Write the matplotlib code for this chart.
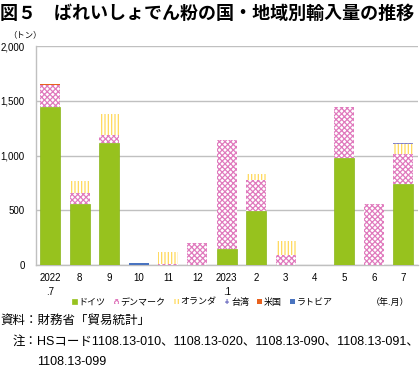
import matplotlib
matplotlib.use("Agg")
import matplotlib.pyplot as plt
from matplotlib.patches import Patch
import numpy as np

plt.rcParams['font.family'] = ['Liberation Sans', 'Noto Sans CJK JP', 'DejaVu Sans']
plt.rcParams['hatch.linewidth'] = 0.9

categories = ["2022\n.7", "8", "9", "10", "11", "12", "2023\n.1", "2", "3", "4", "5", "6", "7"]
germany     = [1440, 560, 1110, 0, 0, 0, 150, 490, 0, 0, 975, 0, 740]
denmark     = [205, 100, 75, 0, 10, 200, 995, 290, 90, 0, 465, 555, 270]
netherlands = [0, 105, 190, 0, 105, 0, 0, 55, 125, 0, 0, 0, 95]
taiwan      = [0, 0, 0, 0, 0, 0, 0, 0, 0, 0, 0, 0, 8]
usa         = [5, 0, 0, 0, 0, 0, 0, 0, 0, 0, 5, 0, 0]
latvia      = [0, 0, 0, 20, 0, 0, 0, 0, 0, 0, 0, 0, 0]
yticks = [0, 500, 1000, 1500, 2000]
ytick_labels = ["0", "500", "1,000", "1,500", "2,000"]

series = [
    ("ドイツ", germany, dict(color="#97C21E", edgecolor="#8AB51A", linewidth=0.5)),
    ("デンマーク", denmark, dict(facecolor="white", edgecolor="#E07ABD", hatch="xxxxxx", linewidth=0)),
    ("オランダ", netherlands, dict(facecolor="white", edgecolor="#FFD95A", hatch="|||||", linewidth=0)),
    ("台湾", taiwan, dict(facecolor="white", edgecolor="#8080C8", hatch="++++", linewidth=0)),
    ("米国", usa, dict(color="#E8621E", linewidth=0)),
    ("ラトビア", latvia, dict(color="#4A74C0", linewidth=0)),
]

fig = plt.figure(figsize=(4.2, 3.68), dpi=100)
ax = fig.add_axes([0.085, 0.2799, 0.910, 0.595])

x = np.arange(len(categories))
bottom = np.zeros(len(categories))
handles = []
for name, vals, style in series:
    v = np.array(vals, dtype=float)
    ax.bar(x, v, width=0.68, bottom=bottom, **style, zorder=3)
    bottom += v
    handles.append(Patch(label=name, **style))

ax.set_xlim(-0.5, len(categories) - 0.5)
ax.set_ylim(0, 2000)
ax.set_yticks(yticks)
ax.set_yticklabels(ytick_labels, fontsize=7)
ax.set_xticks(x)
ax.set_xticklabels(categories, fontsize=7, linespacing=1.5)
ax.tick_params(axis='both', length=0)
ax.tick_params(axis='y', pad=8)
ax.tick_params(axis='x', pad=6)
ax.yaxis.grid(True, color="#C0C0C0", linewidth=1, zorder=0)
ax.set_axisbelow(True)
for s in ["top", "right"]:
    ax.spines[s].set_visible(False)
for s in ["left", "bottom"]:
    ax.spines[s].set_color("#C0C0C0")
    ax.spines[s].set_linewidth(1)

fig.text(0.0, 0.99, "図５　ばれいしょでん粉の国・地域別輸入量の推移",
         fontsize=13, fontweight="bold", va="top", ha="left",
         family=['Noto Sans CJK JP'])
fig.text(0.02, 0.907, "（トン）", fontsize=6, va="center", ha="left",
         family=['Noto Sans CJK JP'])

leg = fig.legend(handles=handles, loc="center", bbox_to_anchor=(0.482, 0.179),
                 ncol=6, frameon=False, fontsize=6.5, handlelength=0.55,
                 handleheight=0.55, handletextpad=0.2, columnspacing=0.9,
                 borderaxespad=0, borderpad=0)
fig.text(0.929, 0.179, "（年.月）", fontsize=6.5, va="center", ha="center",
         family=['Noto Sans CJK JP'])

fig.text(0.0, 1 - 320 / 368, "資料：財務省「貿易統計」", fontsize=9, va="center", ha="left",
         family=['Noto Sans CJK JP'])
fig.text(12.5 / 420, 1 - 342 / 368,
         "注：HSコード1108.13-010、1108.13-020、1108.13-090、1108.13-091、",
         fontsize=9, va="center", ha="left")
fig.text(37.5 / 420, 1 - 362 / 368, "1108.13-099", fontsize=9, va="center", ha="left")

fig.savefig("out.png", dpi=100)
